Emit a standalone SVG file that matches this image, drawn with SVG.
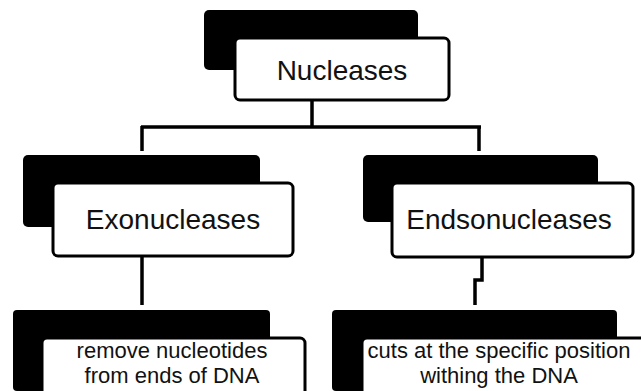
<svg xmlns="http://www.w3.org/2000/svg" width="641" height="391" viewBox="0 0 641 391">
<style>
.sh{fill:#000;}
.bx{fill:#fff;stroke:#000;stroke-width:3;}
.t{font-family:"Liberation Sans",Arial,sans-serif;font-size:28px;fill:#111;text-anchor:middle;}
.s{font-family:"Liberation Sans",Arial,sans-serif;font-size:22px;fill:#111;text-anchor:middle;}
.c{fill:none;stroke:#000;stroke-width:3.5;}
</style>
<rect width="641" height="391" fill="#fff"/>
<g id="connectors">
<path class="c" d="M312,100 V127 M141,127 H481 M142,126 V151 M479,126 V151"/>
<path class="c" d="M142,257 V305"/>
<path class="c" d="M482,257 V280 H475 V305"/>
</g>
<g id="nucleases">
<rect class="sh" x="204" y="10" width="214" height="60" rx="5"/>
<rect class="bx" x="235" y="38" width="214" height="62" rx="5"/>
<text class="t" x="342" y="80">Nucleases</text>
</g>
<g id="exonucleases">
<rect class="sh" x="23" y="155" width="237" height="72" rx="5"/>
<rect class="bx" x="53" y="183" width="240" height="73" rx="5"/>
<text class="t" x="173" y="229">Exonucleases</text>
</g>
<g id="endsonucleases">
<rect class="sh" x="363" y="155" width="235" height="67" rx="5"/>
<rect class="bx" x="392" y="183" width="241" height="74" rx="5"/>
<text class="t" x="509" y="229">Endsonucleases</text>
</g>
<g id="exo-desc">
<rect class="sh" x="13" y="310" width="257" height="81" rx="4"/>
<rect class="bx" x="42" y="338" width="263" height="70" rx="5"/>
<text class="s" x="172" y="358">remove nucleotides</text>
<text class="s" x="172" y="383">from ends of DNA</text>
</g>
<g id="endo-desc">
<rect class="sh" x="332" y="310" width="285" height="81" rx="4"/>
<rect class="bx" x="362" y="338" width="290" height="70" rx="5"/>
<text class="s" x="499" y="358">cuts at the specific position</text>
<text class="s" x="499" y="383">withing the DNA</text>
</g>
</svg>
